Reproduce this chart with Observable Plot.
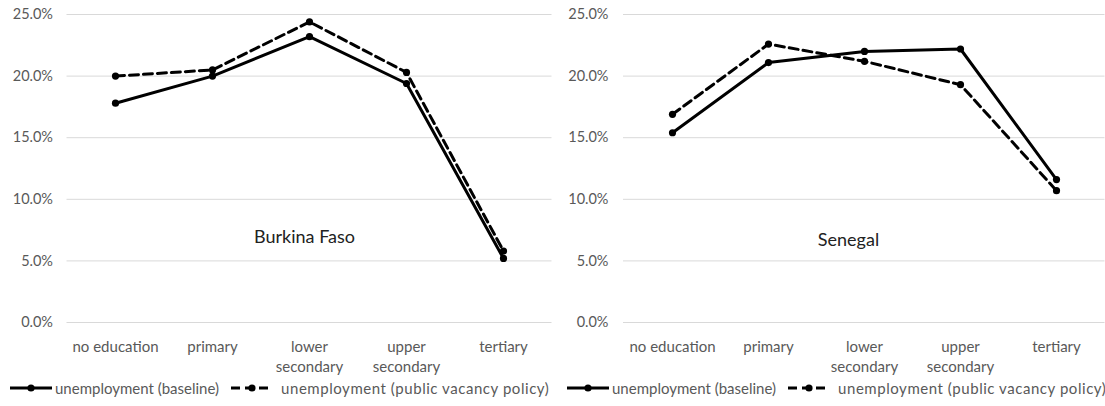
<!DOCTYPE html>
<html>
<head>
<meta charset="utf-8">
<script src="https://cdn.jsdelivr.net/npm/d3@7"></script>
<script src="https://cdn.jsdelivr.net/npm/@observablehq/plot@0.6"></script>
<style>
  html, body { margin: 0; padding: 0; background: #fff; }
  #row { display: flex; width: 1105px; }
  .panel { position: relative; }
  .legend { display: flex; align-items: center; font-family: Lato, "Open Sans", sans-serif; font-size: 15px; color: #595959; height: 24px; white-space: nowrap; margin-top: 0px; }
  .legend .item { display: flex; align-items: center; }
  .legend svg { display: block; }
</style>
</head>
<body>
<div id="row"></div>
<script>
const categories = ["no education", "primary", "lower secondary", "upper secondary", "tertiary"];
const tickLabels = ["no education", "primary", "lower\nsecondary", "upper\nsecondary", "tertiary"];
const seriesNames = ["unemployment (baseline)", "unemployment (public vacancy policy)"];
const yTicks = [0, 5, 10, 15, 20, 25];

const countries = ["Burkina Faso", "Senegal"];
const burkinaBaseline = [17.8, 20.0, 23.2, 19.4, 5.2];
const burkinaPolicy   = [20.0, 20.5, 24.4, 20.3, 5.8];
const senegalBaseline = [15.4, 21.1, 22.0, 22.2, 11.6];
const senegalPolicy   = [16.9, 22.6, 21.2, 19.3, 10.7];

// annotation anchor (category and value) for each country label
const labelCategory = ["lower secondary", "lower secondary"];
const labelValue = [6.9, 6.65];

function rows(values, series) {
  return categories.map((c, i) => ({category: c, value: values[i], series}));
}

function makePanel(idx, baseline, policy, layout) {
  const base = rows(baseline, seriesNames[0]);
  const pol = rows(policy, seriesNames[1]);
  const chart = Plot.plot({
    width: layout.width,
    height: 376,
    marginTop: 14,
    marginBottom: 54,
    marginLeft: layout.marginLeft,
    marginRight: layout.marginRight,
    style: {fontFamily: "Lato, 'Open Sans', sans-serif", background: "#fff", overflow: "visible"},
    x: {type: "point", domain: categories, padding: 0.5},
    y: {domain: [0, 25]},
    marks: [
      Plot.gridY(yTicks, {stroke: "#d9d9d9", strokeOpacity: 1, strokeWidth: 1}),
      Plot.axisY(yTicks, {tickSize: 0, tickPadding: layout.yPad, tickFormat: d => d.toFixed(1) + "%", fontSize: 14.5, fill: "#595959", label: null}),
      Plot.axisX({tickSize: 0, tickPadding: 15, tickFormat: d => tickLabels[categories.indexOf(d)], fontSize: 15, fill: "#595959", lineHeight: 1.33, label: null}),
      Plot.line(base, {x: "category", y: "value", stroke: "#000", strokeWidth: 3}),
      Plot.line(pol, {x: "category", y: "value", stroke: "#000", strokeWidth: 3, strokeDasharray: "9,5"}),
      Plot.dot(base, {x: "category", y: "value", r: 3.6, fill: "#000", stroke: null}),
      Plot.dot(pol, {x: "category", y: "value", r: 3.6, fill: "#000", stroke: null}),
      Plot.text([countries[idx]], {x: () => labelCategory[idx], y: () => labelValue[idx], text: d => d, dx: layout.labelDx, fontSize: 18, fill: "#222"})
    ]
  });
  const panel = document.createElement("div");
  panel.className = "panel";
  panel.style.width = layout.width + "px";
  panel.appendChild(chart);

  const legend = document.createElement("div");
  legend.className = "legend";
  legend.style.paddingLeft = layout.legendLeft + "px";
  seriesNames.forEach((name, i) => {
    const item = document.createElement("div");
    item.className = "item";
    item.style.marginRight = i === 0 ? "11px" : "0";
    const dash = i === 0 ? "" : 'stroke-dasharray="9,5"';
    item.innerHTML = `<svg width="44" height="12"><line x1="1" y1="6" x2="43" y2="6" stroke="#000" stroke-width="3" ${dash}/><circle cx="22" cy="6" r="3.6" fill="#000"/></svg><span style="margin-left:${i === 0 ? 2 : 7}px;letter-spacing:${i === 0 ? 0 : 0.55}px">${name}</span>`;
    legend.appendChild(item);
  });
  panel.appendChild(legend);
  document.getElementById("row").appendChild(panel);
}

makePanel(0, burkinaBaseline, burkinaPolicy, {width: 552, marginLeft: 66.5, marginRight: 0.5, yPad: 14, labelDx: -5, legendLeft: 9});
makePanel(1, senegalBaseline, senegalPolicy, {width: 553, marginLeft: 71, marginRight: 0.5, yPad: 15, labelDx: -16, legendLeft: 14});
</script>
</body>
</html>
